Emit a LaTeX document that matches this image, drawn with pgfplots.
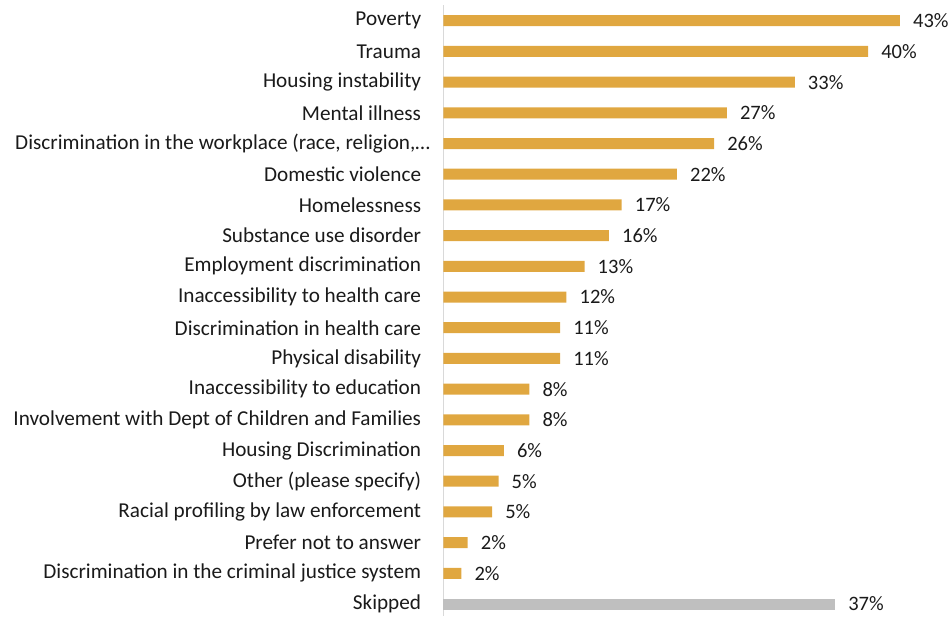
\documentclass[border=0pt]{standalone}
\usepackage{pgfplots}
\pgfplotsset{compat=1.18}
\usepackage{pgfplotstable}
\usepackage{fontspec}
\setmainfont{Carlito}
\definecolor{gold}{HTML}{E0A740}
\definecolor{skipgray}{HTML}{BFBFBF}
\definecolor{txt}{HTML}{1A1A1A}
\definecolor{axgray}{HTML}{D9D9D9}
\pgfplotstableread{
i v lab
0 43.0 43
1 40.0 40
2 33.1 33
3 26.7 27
4 25.5 26
5 22.0 22
6 16.8 17
7 15.6 16
8 13.3 13
9 11.6 12
10 11.0 11
11 11.0 11
12 8.1 8
13 8.1 8
14 5.7 6
15 5.2 5
16 4.6 5
17 2.3 2
18 1.7 2
}\main
\pgfplotstableread{
i v lab
19 36.9 37
}\skipped
\begin{document}
\begin{tikzpicture}
\path[use as bounding box] (-443.3pt,0pt) rectangle (506.7pt,616pt);
\begin{axis}[
  at={(0pt,0pt)}, anchor=south west,
  scale only axis,
  width=499.1pt, height=610.65pt,
  xmin=0, xmax=47,
  ymin=-0.5, ymax=19.39,
  y dir=reverse,
  axis x line=none,
  axis y line*=left,
  axis line style={draw=axgray, line width=1.2pt, -},
  ytick={0,...,19},
  yticklabels={Poverty,Trauma,Housing instability,Mental illness,{Discrimination in the workplace (race, religion,\ldots\kern-9pt\null},Domestic violence,Homelessness,Substance use disorder,Employment discrimination,Inaccessibility to health care,Discrimination in health care,Physical disability,Inaccessibility to education,Involvement with Dept of Children and Families,Housing Discrimination,Other (please specify),Racial profiling by law enforcement,Prefer not to answer,Discrimination in the criminal justice system,Skipped},
  major tick length=0pt,
  yticklabel style={font=\fontsize{21.2}{25}\selectfont, text=txt, inner sep=0pt, xshift=-22pt},
  xbar, bar width=11pt, bar shift=0pt,
  point meta=explicit symbolic,
  nodes near coords={\pgfplotspointmeta\%},
  every node near coord/.append style={font=\fontsize{20.5}{24}\selectfont, text=txt, anchor=west, inner sep=0pt, xshift=13pt},
  clip=false,
]
\addplot[fill=gold, draw=none] table[x=v, y=i, meta=lab] {\main};
\addplot[fill=skipgray, draw=none] table[x=v, y=i, meta=lab] {\skipped};
\end{axis}
\end{tikzpicture}
\end{document}
